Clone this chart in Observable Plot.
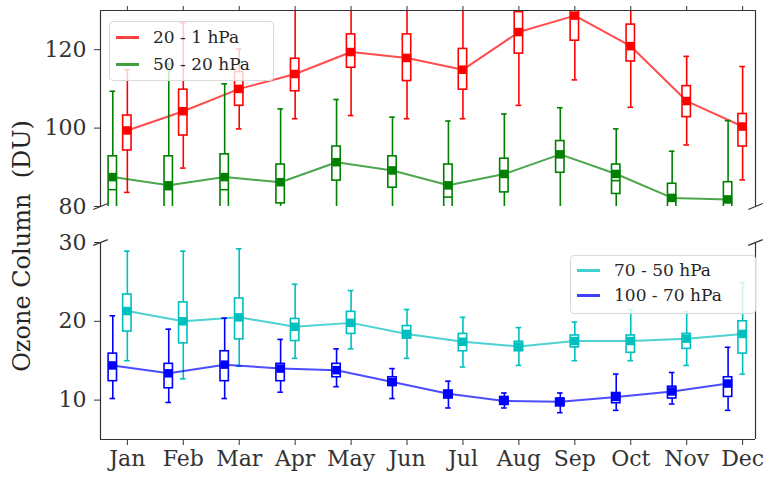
<!DOCTYPE html>
<html><head><meta charset="utf-8">
<script src="https://cdn.jsdelivr.net/npm/d3@7"></script>
<script src="https://cdn.jsdelivr.net/npm/@observablehq/plot@0.6"></script>
<style>
body{margin:0;background:#fff;}
#fig{position:relative;width:764px;height:480px;font-family:"DejaVu Serif",serif;overflow:hidden;}
.panel{position:absolute;left:0;}
.legend{position:absolute;border:1px solid #d9d9d9;border-radius:4px;background:rgba(255,255,255,0.8);font-size:17px;color:#262626;}
.row{position:absolute;left:0;right:0;height:20px;}
.sw{position:absolute;left:6px;width:23px;height:3px;top:9px;}
.lt{position:absolute;left:43px;top:0;line-height:20px;white-space:pre;}
#ylab{position:absolute;left:22px;top:246px;transform:translate(-50%,-50%) rotate(-90deg);font-size:24px;color:#262626;white-space:pre;}
</style></head>
<body><div id="fig"></div>
<script>
// ---- data ----
const months = ["Jan","Feb","Mar","Apr","May","Jun","Jul","Aug","Sep","Oct","Nov","Dec"];
const monthIndex = [1,2,3,4,5,6,7,8,9,10,11,12];
const seriesNames = ["20 - 1 hPa","50 - 20 hPa","70 - 50 hPa","100 - 70 hPa"];
const seriesColors = ["#ff0000","#008000","#00bfbf","#0000ff"];

// 20 - 1 hPa
const s1Mean = [99.4,104.3,110.0,113.8,119.4,117.9,114.9,124.5,128.7,120.9,106.9,100.4];
const s1Med  = [99.4,104.3,110.0,113.8,119.4,117.9,114.9,124.5,128.7,120.9,106.9,100.4];
const s1Q1   = [94.3,98.1,105.7,109.4,115.4,112.0,109.8,119.0,122.3,117.0,102.8,95.3];
const s1Q3   = [103.2,109.8,114.3,117.7,123.9,123.9,120.2,129.6,131.0,126.4,110.7,103.6];
const s1Lo   = [83.6,89.8,99.8,102.4,103.2,102.4,102.4,105.8,112.3,105.3,95.7,86.8];
const s1Hi   = [114.9,126.9,120.2,136,136,136,136,136,136,136,118.3,115.7];

// 50 - 20 hPa
const s2Mean = [87.5,85.4,87.5,86.2,91.3,89.2,85.4,88.3,93.3,88.3,82.2,81.8];
const s2Med  = [84.3,84.3,84.3,86.2,91.3,89.2,82.4,88.3,93.3,86.6,82.2,81.8];
const s2Q1   = [77,77,77,80.8,86.6,84.8,77,83.6,88.6,83.2,77,77];
const s2Q3   = [92.8,92.8,93.3,90.7,95.3,92.8,90.7,92.2,96.7,90.7,85.8,86.2];
const s2Lo   = [72,72,72,72,72,72,72,72,72,72,72,72];
const s2Hi   = [109.4,116.4,111.3,104.9,107.3,102.8,101.8,103.6,105.2,99.8,94.1,101.9];

// 70 - 50 hPa
const s3Mean = [21.3,20.0,20.5,19.3,19.8,18.4,17.4,16.8,17.5,17.5,17.8,18.4];
const s3Med  = [21.3,20.0,20.5,19.3,19.8,18.4,17.4,16.8,17.5,17.5,17.8,18.4];
const s3Q1   = [18.7,17.2,17.7,17.5,18.4,17.8,16.2,16.2,16.7,16.0,16.5,15.9];
const s3Q3   = [23.4,22.4,22.9,20.3,21.2,19.4,18.4,17.4,18.2,18.2,18.4,20.0];
const s3Lo   = [15.0,12.7,14.3,15.3,16.5,15.3,14.2,14.4,15.0,15.0,14.4,13.3];
const s3Hi   = [28.9,28.9,29.2,24.7,23.9,21.5,20.5,19.2,19.9,21.5,21.2,24.9];

// 100 - 70 hPa
const s4Mean = [14.4,13.4,14.5,14.0,13.8,12.3,10.8,9.9,9.8,10.4,11.1,12.1];
const s4Med  = [14.4,13.4,14.5,14.0,13.8,12.3,10.8,9.9,9.8,10.4,11.1,12.1];
const s4Q1   = [12.4,11.5,12.4,12.4,12.9,11.8,10.2,9.4,9.2,9.6,10.2,10.4];
const s4Q3   = [15.9,14.6,16.2,14.6,14.6,12.9,11.2,10.4,10.2,10.9,11.7,12.9];
const s4Lo   = [10.2,9.7,10.2,11.0,11.7,10.2,9.0,9.0,8.4,8.7,9.5,8.7];
const s4Hi   = [20.7,19.0,20.4,17.7,16.5,14.0,12.4,10.9,10.9,13.3,13.5,16.7];

const xDomain = [0.52, 12.23];
const topDomain = [80, 130];
const botDomain = [5, 30];
const topTicks = [80, 100, 120];
const botTicks = [10, 20, 30];
const offsets = [0, -0.26, 0, -0.26];
const boxHalf = 0.075, capHalf = 0.05;

function build(mean, med, q1, q3, lo, hi, off) {
  return monthIndex.map((m, i) => ({x: m + off, mean: mean[i], med: med[i], q1: q1[i], q3: q3[i], lo: lo[i], hi: hi[i]}));
}
function seriesMarks(data, color) {
  const sw = 1.6;
  return [
    Plot.ruleX(data, {x: "x", y1: "q3", y2: "hi", stroke: color, strokeWidth: sw, clip: true}),
    Plot.ruleX(data, {x: "x", y1: "lo", y2: "q1", stroke: color, strokeWidth: sw, clip: true}),
    Plot.ruleY(data, {y: "hi", x1: d => d.x - capHalf, x2: d => d.x + capHalf, stroke: color, strokeWidth: sw, clip: true}),
    Plot.ruleY(data, {y: "lo", x1: d => d.x - capHalf, x2: d => d.x + capHalf, stroke: color, strokeWidth: sw, clip: true}),
    Plot.rect(data, {x1: d => d.x - boxHalf, x2: d => d.x + boxHalf, y1: "q1", y2: "q3", fill: "white", stroke: color, strokeWidth: sw, clip: true}),
    Plot.ruleY(data, {y: "med", x1: d => d.x - boxHalf, x2: d => d.x + boxHalf, stroke: color, strokeWidth: sw, clip: true}),
    Plot.line(data, {x: "x", y: "mean", stroke: color, strokeOpacity: 0.7, strokeWidth: 2, clip: true}),
    Plot.dot(data, {x: "x", y: "mean", symbol: "square", r: 4.8, fill: color, stroke: "none", clip: true})
  ];
}
const d1 = build(s1Mean, s1Med, s1Q1, s1Q3, s1Lo, s1Hi, offsets[0]);
const d2 = build(s2Mean, s2Med, s2Q1, s2Q3, s2Lo, s2Hi, offsets[1]);
const d3s = build(s3Mean, s3Med, s3Q1, s3Q3, s3Lo, s3Hi, offsets[2]);
const d4 = build(s4Mean, s4Med, s4Q1, s4Q3, s4Lo, s4Hi, offsets[3]);

const spine = {stroke: "#333", strokeWidth: 1.2};
const tickFont = 22;
const style = {fontFamily: "'DejaVu Serif', serif", fontSize: tickFont + "px", color: "#333", background: "transparent", overflow: "visible"};

// break marks (diagonals at the broken edges)
const bdx = 0.13;
const topBreak = [xDomain[0], xDomain[1]].map(x => ({x1: x - bdx, x2: x + bdx, y1: topDomain[0] - 0.75, y2: topDomain[0] + 0.75}));
const botBreak = [xDomain[0], xDomain[1]].map(x => ({x1: x - bdx, x2: x + bdx, y1: botDomain[1] - 0.37, y2: botDomain[1] + 0.37}));

const topPlot = Plot.plot({
  width: 764, height: 215,
  marginLeft: 100, marginRight: 9, marginTop: 10, marginBottom: 9,
  style,
  x: {domain: xDomain},
  y: {domain: topDomain},
  marks: [
    ...seriesMarks(d1, seriesColors[0]),
    ...seriesMarks(d2, seriesColors[1]),
    Plot.ruleX([xDomain[0], xDomain[1]], spine),
    Plot.ruleY([topDomain[1]], spine),
    Plot.link(topBreak, {x1: "x1", x2: "x2", y1: "y1", y2: "y2", ...spine}),
    Plot.axisY({ticks: topTicks, tickSize: 6, tickPadding: 8, fontSize: tickFont, label: null, stroke: "#333"}),
    Plot.axisX({anchor: "top", ticks: monthIndex, tickSize: 5, tickFormat: () => "", label: null, stroke: "#333"})
  ]
});

const botPlot = Plot.plot({
  width: 764, height: 265,
  marginLeft: 100, marginRight: 9, marginTop: 27, marginBottom: 41,
  style,
  x: {domain: xDomain},
  y: {domain: botDomain},
  marks: [
    ...seriesMarks(d3s, seriesColors[2]),
    ...seriesMarks(d4, seriesColors[3]),
    Plot.ruleX([xDomain[0], xDomain[1]], spine),
    Plot.ruleY([botDomain[0]], spine),
    Plot.link(botBreak, {x1: "x1", x2: "x2", y1: "y1", y2: "y2", ...spine}),
    Plot.axisY({ticks: botTicks, tickSize: 6, tickPadding: 8, fontSize: tickFont, label: null, stroke: "#333"}),
    Plot.axisX({anchor: "bottom", ticks: monthIndex, tickSize: 6, tickPadding: 5, tickFormat: i => months[i - 1], fontSize: tickFont, label: null, stroke: "#333"})
  ]
});

const fig = document.getElementById("fig");
topPlot.classList.add("panel"); topPlot.style.top = "0px";
botPlot.classList.add("panel"); botPlot.style.top = "215px";
fig.appendChild(topPlot);
fig.appendChild(botPlot);

function legend(names, colors, left, top, w, h, rowTops) {
  const L = document.createElement("div");
  L.className = "legend";
  Object.assign(L.style, {left: left + "px", top: top + "px", width: w + "px", height: h + "px"});
  names.forEach((n, i) => {
    const r = document.createElement("div");
    r.className = "row"; r.style.top = rowTops[i] + "px";
    const s = document.createElement("div"); s.className = "sw"; s.style.background = colors[i]; s.style.opacity = 0.75;
    const t = document.createElement("div"); t.className = "lt"; t.textContent = n;
    r.appendChild(s); r.appendChild(t); L.appendChild(r);
  });
  fig.appendChild(L);
}
legend(seriesNames.slice(0, 2), seriesColors.slice(0, 2), 109, 21, 163, 58, [5, 32]);
legend(seriesNames.slice(2, 4), seriesColors.slice(2, 4), 570, 255, 184, 57, [4, 29]);

const yl = document.createElement("div");
yl.id = "ylab"; yl.textContent = "Ozone Column  (DU)";
fig.appendChild(yl);
</script>
</body></html>
